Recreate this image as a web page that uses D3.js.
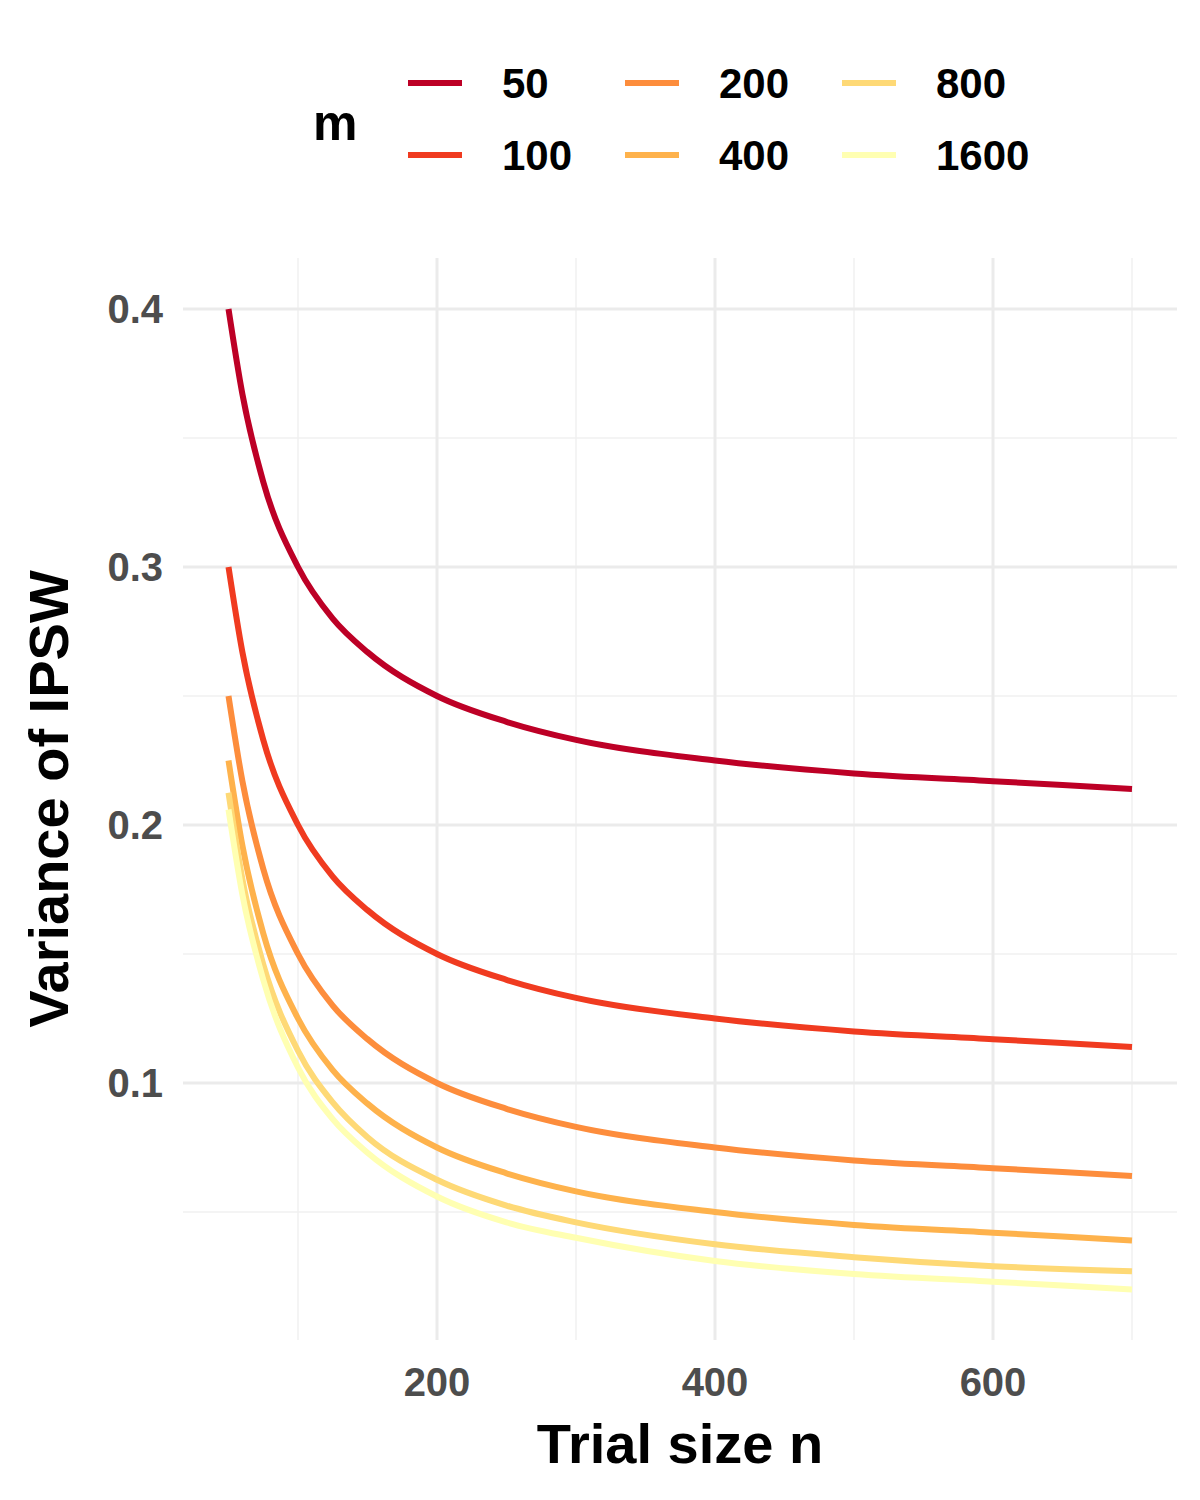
<!DOCTYPE html>
<html><head><meta charset="utf-8">
<script src="https://cdn.jsdelivr.net/npm/d3@7"></script>
<style>body{margin:0;background:#fff}text{font-family:"Liberation Sans",Arial,sans-serif;font-weight:bold}</style>
</head><body><svg id="c" width="1200" height="1500"></svg>
<script>
const nValues = [50, 60, 75, 100, 125, 150, 200, 250, 300, 400, 500, 600, 700]
const mLabels = ['50', '100', '200', '400', '800', '1600']
const v50 = [0.4, 0.367, 0.333, 0.3, 0.28, 0.267, 0.25, 0.24, 0.233, 0.225, 0.22, 0.217, 0.214]
const v100 = [0.3, 0.267, 0.233, 0.2, 0.18, 0.167, 0.15, 0.14, 0.133, 0.125, 0.12, 0.117, 0.114]
const v200 = [0.25, 0.217, 0.183, 0.15, 0.13, 0.117, 0.1, 0.09, 0.083, 0.075, 0.07, 0.067, 0.064]
const v400 = [0.225, 0.192, 0.158, 0.125, 0.105, 0.092, 0.075, 0.065, 0.058, 0.05, 0.045, 0.042, 0.039]
const v800 = [0.2125, 0.179, 0.146, 0.1125, 0.0925, 0.079, 0.0625, 0.0525, 0.046, 0.0375, 0.0325, 0.029, 0.027]
const v1600 = [0.206, 0.173, 0.14, 0.106, 0.086, 0.073, 0.056, 0.046, 0.04, 0.031, 0.026, 0.023, 0.02]
const series = [v50, v100, v200, v400, v800, v1600]
const colors = ['#BD0026', '#F03B20', '#FD8D3C', '#FEB24C', '#FED976', '#FFFFB2']
const xTicks = [200, 400, 600]
const yTicks = [0.1, 0.2, 0.3, 0.4]

const svg = d3.select('#c')
const pLeft = 183, pRight = 1177, pTop = 258, pBottom = 1340
const x = d3.scaleLinear().domain([200, 600]).range([437, 993])
const y = d3.scaleLinear().domain([0.1, 0.4]).range([1083, 309])

// grid
const grid = svg.append('g')
;[100, 300, 500, 700].forEach(v => grid.append('line').attr('x1', x(v)).attr('x2', x(v)).attr('y1', pTop).attr('y2', pBottom).attr('stroke', '#f0f0f0').attr('stroke-width', 1.5))
;[0.05, 0.15, 0.25, 0.35].forEach(v => grid.append('line').attr('y1', y(v)).attr('y2', y(v)).attr('x1', pLeft).attr('x2', pRight).attr('stroke', '#f0f0f0').attr('stroke-width', 1.5))
xTicks.forEach(v => grid.append('line').attr('x1', x(v)).attr('x2', x(v)).attr('y1', pTop).attr('y2', pBottom).attr('stroke', '#ebebeb').attr('stroke-width', 3))
yTicks.forEach(v => grid.append('line').attr('y1', y(v)).attr('y2', y(v)).attr('x1', pLeft).attr('x2', pRight).attr('stroke', '#ebebeb').attr('stroke-width', 3))

xTicks.forEach(v => svg.append('text').attr('x', x(v)).attr('y', 1396).attr('text-anchor', 'middle').attr('font-size', 40).attr('fill', '#4d4d4d').text(v))
yTicks.forEach(v => svg.append('text').attr('x', 163).attr('y', y(v) + 14).attr('text-anchor', 'end').attr('font-size', 40).attr('fill', '#4d4d4d').text(v))

svg.append('text').attr('x', 680).attr('y', 1463).attr('text-anchor', 'middle').attr('font-size', 56).text('Trial size n')
svg.append('text').attr('transform', 'translate(68,799) rotate(-90)').attr('text-anchor', 'middle').attr('font-size', 56).text('Variance of IPSW')

const line = d3.line().x((d, i) => x(nValues[i])).y(d => y(d)).curve(d3.curveMonotoneX)
series.forEach((s, i) => svg.append('path').attr('d', line(s)).attr('fill', 'none').attr('stroke', colors[i]).attr('stroke-width', 6))

// legend
svg.append('text').attr('x', 313).attr('y', 140).attr('font-size', 50).text('m')
mLabels.forEach((lab, i) => {
  const col = Math.floor(i / 2), row = i % 2
  const lx = 408 + col * 217, ly = 83 + row * 72
  svg.append('line').attr('x1', lx).attr('x2', lx + 54).attr('y1', ly).attr('y2', ly).attr('stroke', colors[i]).attr('stroke-width', 6)
  svg.append('text').attr('x', lx + 94).attr('y', ly + 15).attr('font-size', 42).text(lab)
})
</script></body></html>
